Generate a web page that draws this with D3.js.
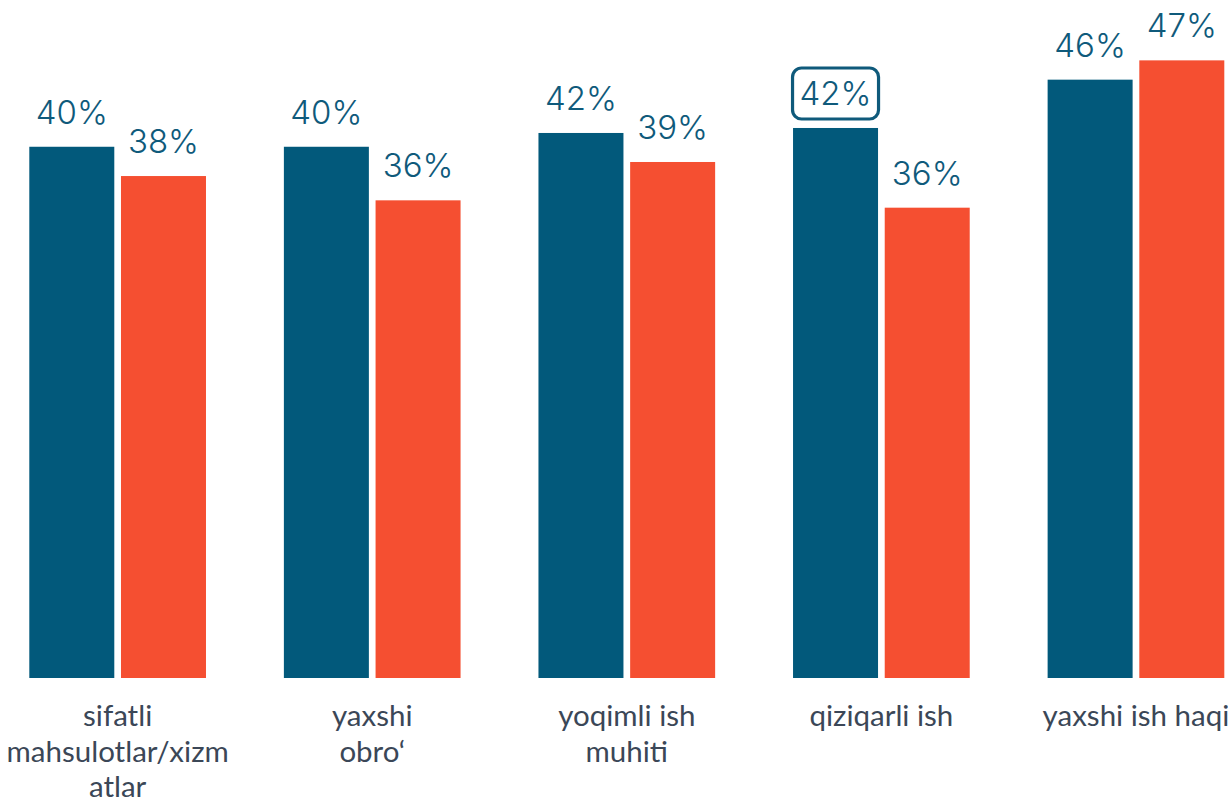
<!DOCTYPE html>
<html>
<head>
<meta charset="utf-8">
<script src="https://cdn.jsdelivr.net/npm/d3@7"></script>
<style>
  html, body { margin: 0; padding: 0; background: #ffffff; }
  svg { display: block; }
</style>
</head>
<body>
<svg id="chart" width="1228" height="804"></svg>
<script>
// Categories (line breaks mark how each label wraps under its group)
const categories = [
  "sifatli\nmahsulotlar/xizm\natlar",
  "yaxshi\nobro‘",
  "yoqimli ish\nmuhiti",
  "qiziqarli ish",
  "yaxshi ish haqi"
];

// Two series, shares in percent
const seriesKeys = ["first", "second"];
const firstValues  = [40.46, 40.46, 41.51, 41.89, 45.57];
const secondValues = [38.23, 36.38, 39.30, 35.82, 47.04];

// Category whose first-series label is outlined
const highlighted = { key: "first", index: 3 };

const colors = { first: "#02597b", second: "#f54f31" };
const labelColor = "#0f5a7b";
const categoryColor = "#3b4757";

const W = 1228, H = 804;
const baseY = 678;

const svg = d3.select("#chart");

const rows = categories.map((c, i) => ({
  category: c,
  first: firstValues[i],
  second: secondValues[i]
}));

const x0 = d3.scaleBand()
  .domain(categories)
  .range([29.3, 1224.3])
  .paddingInner(0.306)
  .paddingOuter(0);

const x1 = d3.scaleBand()
  .domain(seriesKeys)
  .range([0, x0.bandwidth()])
  .paddingInner(0.073)
  .paddingOuter(0);

const y = d3.scaleLinear()
  .domain([0, 50])
  .range([baseY, baseY - 656.5]);

const fmt = v => Math.round(v) + "%";

const groups = svg.append("g")
  .selectAll("g")
  .data(rows)
  .join("g")
  .attr("transform", d => `translate(${x0(d.category)},0)`);

const cells = groups.selectAll("g.cell")
  .data((d, i) => seriesKeys.map(k => ({ key: k, value: d[k], index: i })))
  .join("g")
  .attr("class", "cell");

cells.append("rect")
  .attr("x", d => x1(d.key))
  .attr("y", d => y(d.value))
  .attr("width", x1.bandwidth())
  .attr("height", d => baseY - y(d.value))
  .attr("fill", d => colors[d.key]);

const valueLabels = cells.append("text")
  .attr("x", d => x1(d.key) + x1.bandwidth() / 2)
  .attr("y", d => y(d.value) - 23)
  .attr("text-anchor", "middle")
  .attr("font-family", "Inter, 'Noto Sans', sans-serif")
  .attr("font-weight", 300)
  .attr("font-size", 33)
  .attr("fill", labelColor)
  .text(d => fmt(d.value));

// Rounded outline round the highlighted value label
valueLabels
  .filter(d => d.key === highlighted.key && d.index === highlighted.index)
  .each(function (d) {
    const cx = x1(d.key) + x1.bandwidth() / 2;
    const top = y(d.value);
    d3.select(this.parentNode).insert("rect", "text")
      .attr("x", cx - 43)
      .attr("y", top - 60)
      .attr("width", 86)
      .attr("height", 51)
      .attr("rx", 9)
      .attr("fill", "none")
      .attr("stroke", labelColor)
      .attr("stroke-width", 3.2);
  });

// Category axis without line or ticks; labels wrap onto several lines
const axis = svg.append("g")
  .attr("transform", `translate(0,${baseY})`)
  .call(d3.axisBottom(x0).tickSize(0).tickFormat(""));
axis.select(".domain").remove();

axis.selectAll(".tick").each(function (c) {
  const t = d3.select(this).append("text")
    .attr("text-anchor", "middle")
    .attr("font-family", "Lato, 'Open Sans', sans-serif")
    .attr("font-weight", 400)
    .attr("font-size", 29.5)
    .attr("fill", categoryColor)
    .attr("y", 48);
  c.split("\n").forEach((line, i) => {
    t.append("tspan")
      .attr("x", 0)
      .attr("dy", i === 0 ? 0 : 35.5)
      .text(line);
  });
});
</script>
</body>
</html>
